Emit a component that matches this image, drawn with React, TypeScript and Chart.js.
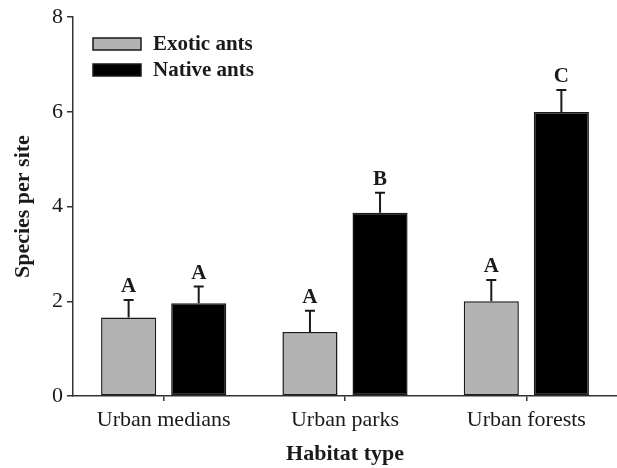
import React, { useEffect, useRef } from "react";
import { Chart, registerables } from "chart.js";

Chart.register(...registerables);

const categories = ["Urban medians", "Urban parks", "Urban forests"];
const exoticMeans = [1.66, 1.35, 2.0];
const exoticErr = [0.37, 0.45, 0.45];
const nativeMeans = [1.96, 3.87, 6.0];
const nativeErr = [0.35, 0.42, 0.46];
const exoticLetters = ["A", "A", "A"];
const nativeLetters = ["A", "B", "C"];
const seriesNames = ["Exotic ants", "Native ants"];
const yTicks = [0, 2, 4, 6, 8];

const SERIF = "'Liberation Serif', 'Times New Roman', serif";
const GRAY = "#b3b3b3";
const INK = "#1a1a1a";

export default function App() {
  const ref = useRef<HTMLCanvasElement | null>(null);

  useEffect(() => {
    document.body.style.margin = "0";
    const canvas = ref.current;
    if (!canvas) return;

    const errs = [exoticErr, nativeErr];
    const letters = [exoticLetters, nativeLetters];

    const overlay = {
      id: "overlay",
      afterDatasetsDraw(chart: any) {
        const ctx = chart.ctx;
        const y = chart.scales.y;
        ctx.save();
        chart.data.datasets.forEach((ds: any, di: number) => {
          const meta = chart.getDatasetMeta(di);
          meta.data.forEach((bar: any, i: number) => {
            const v = ds.data[i];
            const top = y.getPixelForValue(v + errs[di][i]);
            const base = y.getPixelForValue(v);
            ctx.strokeStyle = INK;
            ctx.lineWidth = 2;
            ctx.beginPath();
            ctx.moveTo(bar.x, base);
            ctx.lineTo(bar.x, top);
            ctx.moveTo(bar.x - 5, top);
            ctx.lineTo(bar.x + 5, top);
            ctx.stroke();
            ctx.fillStyle = INK;
            ctx.font = `bold 21px ${SERIF}`;
            ctx.textAlign = "center";
            ctx.textBaseline = "alphabetic";
            ctx.fillText(letters[di][i], bar.x, top - 8);
          });
        });
        // legend
        const ca = chart.chartArea;
        const lx = ca.left + 20;
        const items = [
          { fill: GRAY, y: 38 },
          { fill: "#000", y: 64 },
        ];
        items.forEach((it, k) => {
          ctx.fillStyle = it.fill;
          ctx.fillRect(lx, it.y, 48, 12);
          ctx.strokeStyle = INK;
          ctx.lineWidth = 1.5;
          ctx.strokeRect(lx, it.y, 48, 12);
          ctx.fillStyle = INK;
          ctx.font = `bold 21px ${SERIF}`;
          ctx.textAlign = "left";
          ctx.textBaseline = "middle";
          ctx.fillText(seriesNames[k], lx + 60, it.y + 7);
        });
        ctx.restore();
      },
    };

    const chart = new Chart(canvas, {
      type: "bar",
      data: {
        labels: categories,
        datasets: [
          {
            label: seriesNames[0],
            data: exoticMeans,
            backgroundColor: GRAY,
            borderColor: INK,
            borderWidth: 1.5,
            borderSkipped: false,
            categoryPercentage: 0.773,
            barPercentage: 0.786,
          },
          {
            label: seriesNames[1],
            data: nativeMeans,
            backgroundColor: "#000",
            borderColor: INK,
            borderWidth: 1.5,
            borderSkipped: false,
            categoryPercentage: 0.773,
            barPercentage: 0.786,
          },
        ],
      },
      options: {
        responsive: false,
        animation: false,
        layout: { padding: { top: 17, right: 0, left: 0, bottom: 0 } },
        plugins: {
          legend: { display: false },
          tooltip: { enabled: false },
        },
        scales: {
          x: {
            offset: true,
            grid: {
              offset: false,
              drawOnChartArea: false,
              drawTicks: true,
              tickLength: 5,
              color: "#333",
              lineWidth: 1.5,
            },
            border: { color: "#333", width: 1.5 },
            ticks: {
              color: INK,
              font: { family: SERIF, size: 22 },
              padding: 6,
            },
            title: {
              display: true,
              text: "Habitat type",
              color: INK,
              font: { family: SERIF, size: 22, weight: "bold" },
              padding: { top: 0, bottom: 0 },
            },
            afterFit(scale: any) {
              scale.height = 72;
            },
          },
          y: {
            min: 0,
            max: 8,
            afterBuildTicks(scale: any) {
              scale.ticks = yTicks.map((v) => ({ value: v }));
            },
            grid: {
              drawOnChartArea: false,
              drawTicks: true,
              tickLength: 6,
              color: "#333",
              lineWidth: 1.5,
            },
            border: { color: "#333", width: 1.5 },
            ticks: {
              color: INK,
              font: { family: SERIF, size: 22 },
              padding: 4,
            },
            title: {
              display: true,
              text: "Species per site",
              color: INK,
              font: { family: SERIF, size: 22, weight: "bold" },
              padding: { top: 10, bottom: 0 },
            },
            afterFit(scale: any) {
              scale.width = 73;
            },
          },
        },
      },
      plugins: [overlay],
    } as any);

    return () => chart.destroy();
  }, []);

  return <canvas ref={ref} width={617} height={468} style={{ display: "block" }} />;
}
